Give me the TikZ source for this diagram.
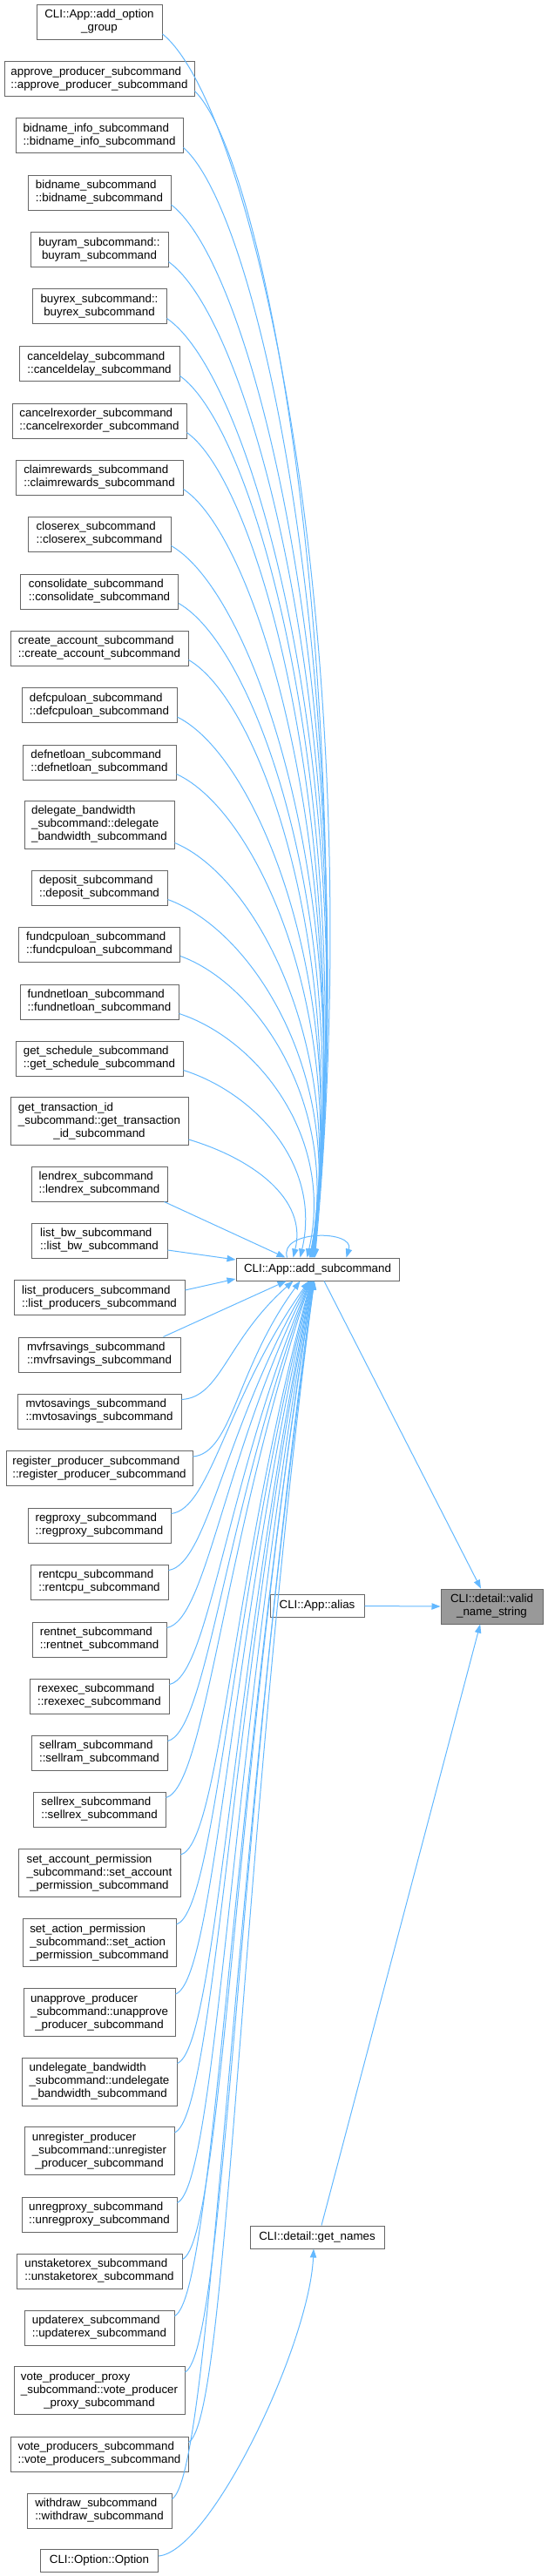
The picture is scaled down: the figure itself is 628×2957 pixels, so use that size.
\documentclass[tikz,border=0pt]{standalone}
\usepackage{fontspec}
\setmainfont{Liberation Sans}
\usetikzlibrary{calc,arrows.meta}
\definecolor{edgec}{HTML}{63B8FF}
\definecolor{bordc}{HTML}{666666}
\definecolor{curc}{HTML}{999999}
\newcommand\twol[2]{\begin{tabular}{@{}l@{}}#1\\\multicolumn{1}{@{}c@{}}{#2}\end{tabular}}
\newcommand\threel[3]{\begin{tabular}{@{}l@{}}#1\\#2\\\multicolumn{1}{@{}c@{}}{#3}\end{tabular}}
\newcommand\topedge[2]{\draw[conn] let \p1=($(#1.south east)+(0,-7)$), \p2=([xshift={#2*0.75pt}]add.north), \n1={\y1-\y2}, \n2={\n1/(\n1+225)} in (\p1) .. controls ($(\p1)+({0.6*(\x2-\x1)},{-0.05*\n1*1pt-11pt})$) and ($(\p2)+({0.45*(\x2-\x1)*\n2},{0.5*\n1*1pt})$) .. (\p2);}
\newcommand\botedge[2]{\draw[conn] let \p1=($(#1.north east)+(0,7)$), \p2=([xshift={#2*0.75pt}]add.south), \n1={\y2-\y1} in (\p1) .. controls ($(\p1)+(34pt,{0.02*\n1*1pt})$) and ($(\p2)+({-0.6*(\x2-\x1)},{-0.5*\n1*1pt})$) .. (\p2);}
\tikzset{
  box/.style={draw=bordc, fill=white, line width=0.75pt, inner sep=0pt, font=\fontsize{10}{11.25}\selectfont, anchor=center},
  bw/.style={minimum width={#1*0.75pt}},
  hone/.style={minimum height=19.5pt},
  htwo/.style={minimum height=30pt},
  hthree/.style={minimum height=41.25pt},
  conn/.style={draw=edgec, line width=0.75pt, -{Triangle[length=7.5pt,width=5.5pt]}},
}
\begin{document}
\begin{tikzpicture}[x=0.75pt,y=-0.75pt]
\useasboundingbox (0,0) rectangle (628,2957);
% left column
\node[box,bw=144,htwo] (aog) at (114,25.5) {\twol{CLI::App::add\_option}{\_group}};
\node[box,bw=218,htwo] (approve) at (114,91) {\twol{approve\_producer\_subcommand}{::approve\_producer\_subcommand}};
\node[box,bw=192,htwo] (binfo) at (114,156) {\twol{bidname\_info\_subcommand}{::bidname\_info\_subcommand}};
\node[box,bw=164,htwo] (bidname) at (114,221.5) {\twol{bidname\_subcommand}{::bidname\_subcommand}};
\node[box,bw=158,htwo] (buyram) at (114,287) {\twol{buyram\_subcommand::}{buyram\_subcommand}};
\node[box,bw=154,htwo] (buyrex) at (114,352) {\twol{buyrex\_subcommand::}{buyrex\_subcommand}};
\node[box,bw=184,htwo] (cdelay) at (114,418) {\twol{canceldelay\_subcommand}{::canceldelay\_subcommand}};
\node[box,bw=200,htwo] (crexo) at (114,483) {\twol{cancelrexorder\_subcommand}{::cancelrexorder\_subcommand}};
\node[box,bw=192,htwo] (claim) at (114,548) {\twol{claimrewards\_subcommand}{::claimrewards\_subcommand}};
\node[box,bw=164,htwo] (closerex) at (114,613) {\twol{closerex\_subcommand}{::closerex\_subcommand}};
\node[box,bw=181,htwo] (consol) at (114,679) {\twol{consolidate\_subcommand}{::consolidate\_subcommand}};
\node[box,bw=204,htwo] (createacc) at (114,744) {\twol{create\_account\_subcommand}{::create\_account\_subcommand}};
\node[box,bw=178,htwo] (defcpu) at (114,809.5) {\twol{defcpuloan\_subcommand}{::defcpuloan\_subcommand}};
\node[box,bw=176,htwo] (defnet) at (114,875) {\twol{defnetloan\_subcommand}{::defnetloan\_subcommand}};
\node[box,bw=172,hthree] (delbw) at (114,946.5) {\threel{delegate\_bandwidth}{\_subcommand::delegate}{\_bandwidth\_subcommand}};
\node[box,bw=156,htwo] (deposit) at (114,1019) {\twol{deposit\_subcommand}{::deposit\_subcommand}};
\node[box,bw=185,htwo] (fundcpu) at (114,1084) {\twol{fundcpuloan\_subcommand}{::fundcpuloan\_subcommand}};
\node[box,bw=182,htwo] (fundnet) at (114,1150) {\twol{fundnetloan\_subcommand}{::fundnetloan\_subcommand}};
\node[box,bw=192,htwo] (getsched) at (114,1215) {\twol{get\_schedule\_subcommand}{::get\_schedule\_subcommand}};
\node[box,bw=204,hthree] (gettrx) at (114,1287) {\threel{get\_transaction\_id}{\_subcommand::get\_transaction}{\_id\_subcommand}};
\node[box,bw=156,htwo] (lendrex) at (114,1359) {\twol{lendrex\_subcommand}{::lendrex\_subcommand}};
\node[box,bw=156,htwo] (listbw) at (114,1424) {\twol{list\_bw\_subcommand}{::list\_bw\_subcommand}};
\node[box,bw=196,htwo] (listprod) at (114,1489.5) {\twol{list\_producers\_subcommand}{::list\_producers\_subcommand}};
\node[box,bw=186,htwo] (mvfr) at (114,1555) {\twol{mvfrsavings\_subcommand}{::mvfrsavings\_subcommand}};
\node[box,bw=188,htwo] (mvto) at (114,1620) {\twol{mvtosavings\_subcommand}{::mvtosavings\_subcommand}};
\node[box,bw=214,htwo] (regprod) at (114,1685.5) {\twol{register\_producer\_subcommand}{::register\_producer\_subcommand}};
\node[box,bw=164,htwo] (regproxy) at (114,1751) {\twol{regproxy\_subcommand}{::regproxy\_subcommand}};
\node[box,bw=158,htwo] (rentcpu) at (114,1816) {\twol{rentcpu\_subcommand}{::rentcpu\_subcommand}};
\node[box,bw=154,htwo] (rentnet) at (114,1882) {\twol{rentnet\_subcommand}{::rentnet\_subcommand}};
\node[box,bw=160,htwo] (rexexec) at (114,1947) {\twol{rexexec\_subcommand}{::rexexec\_subcommand}};
\node[box,bw=156,htwo] (sellram) at (114,2012) {\twol{sellram\_subcommand}{::sellram\_subcommand}};
\node[box,bw=152,htwo] (sellrex) at (114,2077) {\twol{sellrex\_subcommand}{::sellrex\_subcommand}};
\node[box,bw=186,hthree] (setacc) at (114,2150) {\threel{set\_account\_permission}{\_subcommand::set\_account}{\_permission\_subcommand}};
\node[box,bw=176,hthree] (setact) at (114,2230) {\threel{set\_action\_permission}{\_subcommand::set\_action}{\_permission\_subcommand}};
\node[box,bw=174,hthree] (unappr) at (114,2310) {\threel{unapprove\_producer}{\_subcommand::unapprove}{\_producer\_subcommand}};
\node[box,bw=178,hthree] (undel) at (114,2389.5) {\threel{undelegate\_bandwidth}{\_subcommand::undelegate}{\_bandwidth\_subcommand}};
\node[box,bw=172,hthree] (unreg) at (114,2469) {\threel{unregister\_producer}{\_subcommand::unregister}{\_producer\_subcommand}};
\node[box,bw=178,htwo] (unregproxy) at (114,2542) {\twol{unregproxy\_subcommand}{::unregproxy\_subcommand}};
\node[box,bw=190,htwo] (unstake) at (114,2607) {\twol{unstaketorex\_subcommand}{::unstaketorex\_subcommand}};
\node[box,bw=172,htwo] (updrex) at (114,2672) {\twol{updaterex\_subcommand}{::updaterex\_subcommand}};
\node[box,bw=196,hthree] (vpp) at (114,2744) {\threel{vote\_producer\_proxy}{\_subcommand::vote\_producer}{\_proxy\_subcommand}};
\node[box,bw=204,htwo] (vprod) at (114,2817) {\twol{vote\_producers\_subcommand}{::vote\_producers\_subcommand}};
\node[box,bw=166,htwo] (withdraw) at (114,2882) {\twol{withdraw\_subcommand}{::withdraw\_subcommand}};
\node[box,bw=135,hone] (option) at (114,2939) {CLI::Option::Option};
% right part
\node[box,bw=187,hone] (add) at (364.5,1457) {CLI::App::add\_subcommand};
\node[box,bw=108,hone] (alias) at (364,1843.5) {CLI::App::alias};
\node[box,bw=154,hone] (getnames) at (364,2568) {CLI::detail::get\_names};
\node[box,bw=117,htwo,fill=curc] (valid) at (564.5,1844) {\twol{CLI::detail::valid}{\_name\_string}};
% edges from upper callers
\topedge{aog}{-3}
\topedge{approve}{-3.4}
\topedge{binfo}{-3.8}
\topedge{bidname}{-4.2}
\topedge{buyram}{-4.6}
\topedge{buyrex}{-5}
\topedge{cdelay}{-5.4}
\topedge{crexo}{-5.8}
\topedge{claim}{-6.2}
\topedge{closerex}{-6.6}
\topedge{consol}{-7}
\topedge{createacc}{-7.4}
\topedge{defcpu}{-7.8}
\topedge{defnet}{-8.2}
\topedge{delbw}{-8.6}
\topedge{deposit}{-9}
\topedge{fundcpu}{-9.4}
\topedge{fundnet}{-12}
\topedge{getsched}{-20}
\topedge{gettrx}{-28}
\draw[conn] ([xshift=-3pt]lendrex.south east) -- ([xshift={-37*0.75pt}]add.north);
\draw[conn] ([yshift=-8.25pt]listbw.east) -- ([yshift=8.25pt]add.west);
\draw[conn] ([yshift=6.4pt]listprod.east) -- ([yshift=-8.25pt]add.west);
\draw[conn] ([xshift=-15pt]mvfr.north east) -- ([xshift={-36*0.75pt}]add.south);
% edges from lower callers
\botedge{mvto}{-28}
\botedge{regprod}{-20}
\botedge{regproxy}{-10}
\botedge{rentcpu}{-9.6}
\botedge{rentnet}{-9.2}
\botedge{rexexec}{-8.8}
\botedge{sellram}{-8.4}
\botedge{sellrex}{-8}
\botedge{setacc}{-7.6}
\botedge{setact}{-7.2}
\botedge{unappr}{-6.8}
\botedge{undel}{-6.4}
\botedge{unreg}{-6}
\botedge{unregproxy}{-5.6}
\botedge{unstake}{-5.2}
\botedge{updrex}{-4.8}
\botedge{vpp}{-4.4}
\botedge{vprod}{-4}
\botedge{withdraw}{-3.6}
% self loop
\draw[conn] ([xshift={-35*0.75pt}]add.north) .. controls +(-10,-32) and +(10,-32) .. ([xshift={33*0.75pt}]add.north);
% right side edges
\draw[conn] ([xshift=5.6pt]add.south) -- ([xshift=-9.4pt]valid.north);
\draw[conn] (alias.east) -- (valid.west);
\draw[conn] ([xshift=3.75pt]getnames.north) -- ([xshift=-10pt]valid.south);
\draw[conn] ([yshift=3.75pt]option.east) .. controls +(60,-5) and +(-5,110) .. ([xshift=-3pt]getnames.south);
\end{tikzpicture}
\end{document}
